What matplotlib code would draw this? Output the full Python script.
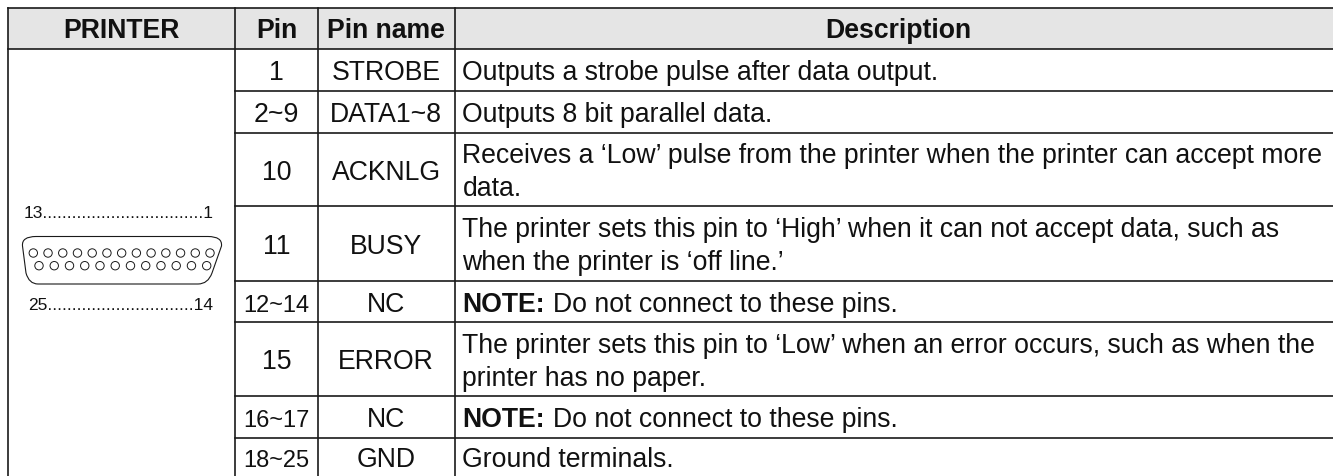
import numpy as np
import matplotlib
matplotlib.use('Agg')
import matplotlib.pyplot as plt
from matplotlib.patches import Circle, PathPatch, Rectangle
from matplotlib.path import Path

plt.rcParams['font.family'] = ['Liberation Sans', 'DejaVu Sans']

# table content
headers = ['PRINTER', 'Pin', 'Pin name', 'Description']
pins = ['1', '2~9', '10', '11', '12~14', '15', '16~17', '18~25']
pin_names = ['STROBE', 'DATA1~8', 'ACKNLG', 'BUSY', 'NC', 'ERROR', 'NC', 'GND']
descriptions = [
    ['Outputs a strobe pulse after data output.'],
    ['Outputs 8 bit parallel data.'],
    ['Receives a \u2018Low\u2019 pulse from the printer when the printer can accept more', 'data.'],
    ['The printer sets this pin to \u2018High\u2019 when it can not accept data, such as', 'when the printer is \u2018off line.\u2019'],
    ['NOTE:|Do not connect to these pins.'],
    ['The printer sets this pin to \u2018Low\u2019 when an error occurs, such as when the', 'printer has no paper.'],
    ['NOTE:|Do not connect to these pins.'],
    ['Ground terminals.'],
]
top_label = '13' + '.' * 33 + '1'
bottom_label = '25' + '.' * 30 + '14'

# grid in pixels
col_x = [7.5, 235, 318, 454.5, 1333]
row_y = [8.5, 50, 92, 133.5, 207, 281.5, 323, 396.5, 438.5, 477]
line_col = '#1a1a1a'
text_col = '#111111'
fs = 19.2

fig = plt.figure(figsize=(13.33, 4.77), dpi=100)
ax = fig.add_axes([0, 0, 1, 1])
ax.set_xlim(0, 1333)
ax.set_ylim(477, 0)
ax.axis('off')

ax.add_patch(Rectangle((col_x[0], row_y[0]), col_x[-1] - col_x[0], row_y[1] - row_y[0],
                       facecolor='#e5e5e5', edgecolor='none'))

# horizontal rules
ax.plot([col_x[0], col_x[-1]], [row_y[0], row_y[0]], color=line_col, lw=1.2)
ax.plot([col_x[0], col_x[-1]], [row_y[1], row_y[1]], color=line_col, lw=1.2)
for y in row_y[2:-1]:
    ax.plot([col_x[1], col_x[-1]], [y, y], color=line_col, lw=1.2)
# vertical rules
for x in col_x[:-1]:
    ax.plot([x, x], [row_y[0], row_y[-1]], color=line_col, lw=1.2)

# header
for i, h in enumerate(headers):
    ax.text((col_x[i] + col_x[i + 1]) / 2 + (5 if i == 3 else 0), 38.5, h, ha='center', va='baseline',
            fontsize=fs, fontweight='bold', color=text_col)

renderer = fig.canvas.get_renderer()
for r in range(len(pins)):
    cy = (row_y[r + 1] + row_y[r + 2]) / 2
    base = cy + 9.5
    # the long pin ranges are squeezed in the original
    pin_fs = 17 if len(pins[r]) > 3 else fs
    ax.text((col_x[1] + col_x[2]) / 2, base, pins[r], ha='center', va='baseline', fontsize=pin_fs, color=text_col)
    ax.text((col_x[2] + col_x[3]) / 2, base, pin_names[r], ha='center', va='baseline', fontsize=fs, color=text_col)
    lines = descriptions[r]
    offs = [0] if len(lines) == 1 else [-16.7, 16.7]
    for line, off in zip(lines, offs):
        x = 462.5
        if '|' in line:
            bold, line = line.split('|')
            t = ax.text(x, base + off, bold, ha='left', va='baseline', fontsize=fs,
                        fontweight='bold', color=text_col)
            x = x + t.get_window_extent(renderer).width + 7.4
        ax.text(x, base + off, line, ha='left', va='baseline', fontsize=fs, color=text_col)

# 25 pin connector
ax.text(24, 218.5, top_label, ha='left', va='baseline', fontsize=12.5, color=text_col)
ax.text(28, 310.5, bottom_label, ha='left', va='baseline', fontsize=12.5, color=text_col)

verts = [(36, 237.5), (208, 237.5), (222.5, 237.5), (221.5, 247), (212, 274), (208, 285),
         (198, 285), (38, 285), (29, 285), (26, 274), (22.5, 247), (21.5, 237.5), (36, 237.5)]
codes = [Path.MOVETO, Path.LINETO, Path.CURVE3, Path.CURVE3, Path.LINETO, Path.CURVE3, Path.CURVE3,
         Path.LINETO, Path.CURVE3, Path.CURVE3, Path.LINETO, Path.CURVE3, Path.CURVE3]
ax.add_patch(PathPatch(Path(verts, codes), facecolor='none', edgecolor=line_col, lw=0.8))
for x in np.linspace(33.3, 210, 13):
    ax.add_patch(Circle((x, 254), 4.2, facecolor='none', edgecolor=line_col, lw=0.7))
for x in np.linspace(39, 206.7, 12):
    ax.add_patch(Circle((x, 266.7), 4.2, facecolor='none', edgecolor=line_col, lw=0.7))

fig.savefig('out.png', dpi=100)
